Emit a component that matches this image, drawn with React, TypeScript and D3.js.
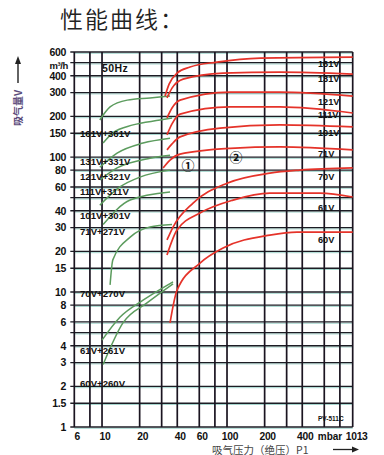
import React from "react";
import * as d3 from "d3";

// ---- axes ----
const xGrid = [6, 8, 10, 20, 30, 40, 60, 80, 100, 200, 300, 400, 600, 800, 1013];
const xTickValues = [6, 10, 20, 40, 60, 100, 200, 400, 1013];
const xTickLabels = ["6", "10", "20", "40", "60", "100", "200", "400", "1013"];
const yGrid = [1, 1.5, 2, 3, 4, 5, 6, 8, 10, 15, 20, 30, 40, 50, 60, 80, 100, 150, 200, 300, 400, 500, 600];
const yTickValues = [1, 1.5, 2, 3, 4, 6, 8, 10, 15, 20, 30, 40, 60, 80, 100, 150, 200, 300, 400, 600];
const yTickLabels = ["1", "1.5", "2", "3", "4", "6", "8", "10", "15", "20", "30", "40", "60", "80", "100", "150", "200", "300", "400", "600"];

// ---- models ----
const models = ["161V", "131V", "121V", "111V", "101V", "71V", "70V", "61V", "60V"];
const greenLabels = ["161V+361V", "131V+331V", "121V+321V", "111V+311V", "101V+301V", "71V+271V", "70V+270V", "61V+261V", "60V+260V"];
const greenLabelFlow = [150, 92, 72, 56, 37, 28, 9.7, 3.7, 2.1];
const redLabelFlow = [489, 385, 260, 208, 153, 107, 72, 42, 24.7];

// green curves (region 1): suction pressure mbar, flow m3/h
const greenPressure = [
  [9.6, 11.6, 15.9, 24.2, 35],
  [10.2, 12.2, 17.7, 29.1, 36.3],
  [9.6, 13.2, 21.3, 35],
  [9.6, 13.2, 24.2, 35],
  [9.6, 13.9, 20.1, 35],
  [10.2, 16.8, 35],
  [11.6, 12.2, 16.8, 24.2, 36.3],
  [10, 13.9, 21.3, 37],
  [10.2, 14.7, 22.9, 37],
];
const greenFlow = [
  [188, 235, 264, 274, 283],
  [127, 151, 173, 188, 195],
  [84, 107, 127, 138],
  [67.6, 83, 98, 103],
  [44, 60, 71, 80],
  [31.6, 48, 55],
  [11.3, 17.3, 25.5, 30.3, 31.6],
  [4.4, 6.5, 8.7, 11.9],
  [2.9, 5.9, 8.3, 11.5],
];

// red curves (region 2)
const redPressure = [
  [31.9, 34.4, 39.8, 50.6, 83, 185, 1013],
  [33.1, 36.3, 44.5, 93, 265, 1013],
  [33.1, 36.3, 42.1, 106, 265, 1013],
  [33.1, 36.3, 42.1, 106, 265, 1013],
  [33.1, 36.3, 42.1, 88, 265, 1013],
  [30.8, 35, 42.1, 106, 265, 1013],
  [33.1, 37, 53.5, 100, 220, 384, 1013],
  [33.1, 39.8, 60.8, 112, 220, 555, 1013],
  [35, 39.8, 60.8, 93, 220, 363, 1013],
];
const redFlow = [
  [283, 347, 419, 464, 505, 541, 550],
  [274, 324, 378, 419, 426, 412],
  [195, 231, 264, 303, 303, 283],
  [146, 176, 208, 235, 235, 212],
  [113, 125, 141, 164, 173, 167],
  [83, 95, 105, 116, 119, 113],
  [24.3, 30.3, 45.6, 64, 76, 80, 83],
  [18.8, 28.8, 38.5, 48, 54, 54, 50.6],
  [5.9, 10.3, 16.4, 21.2, 26.4, 27.8, 27.8],
];

const regionMarks = ["①", "②"];
const regionPressure = [48.7, 118];
const regionFlow = [87, 100];

export default function App() {
  const W = 384;
  const H = 455;
  const x = d3.scaleLog().domain([6, 1013]).range([74.3, 352.7]);
  const y = d3.scaleLog().domain([1, 600]).range([427, 52]);
  const line = d3
    .line<[number, number]>()
    .x((d) => x(d[0]))
    .y((d) => y(d[1]))
    .curve(d3.curveMonotoneX);

  const bold = "'Liberation Sans', Arial, sans-serif";
  const x0 = x(6);
  const x1 = x(1013);
  const yTop = y(600);
  const yBot = y(1);

  return (
    <svg
      width={W}
      height={H}
      viewBox={`0 0 ${W} ${H}`}
      style={{ position: "absolute", left: 0, top: 0, background: "#fff" }}
    >
      <rect x={0} y={0} width={W} height={H} fill="#fff" />
      {/* title */}
      <text x={60} y={28} fontFamily="'Noto Sans CJK SC'" fontSize={23} fontWeight={350} letterSpacing={2} fill="#222">
        性能曲线：
      </text>

      {/* horizontal grid */}
      {yGrid.map((v) => (
        <g key={"h" + v}>
          <line x1={x0} x2={x1} y1={y(v) + 1.3} y2={y(v) + 1.3} stroke="#5fb8a8" strokeWidth={0.8} opacity={0.7} />
          <line x1={x0 - 4} x2={x1} y1={y(v)} y2={y(v)} stroke="#1c1c24" strokeWidth={1.3} />
        </g>
      ))}
      {/* vertical grid */}
      {xGrid.map((v) => (
        <line key={"v" + v} x1={x(v)} x2={x(v)} y1={yTop} y2={yBot} stroke="#1a1420" strokeWidth={1.7} />
      ))}

      {/* green curves */}
      {greenPressure.map((ps, i) => (
        <path
          key={"g" + i}
          d={line(ps.map((p, j) => [p, greenFlow[i][j]] as [number, number])) || ""}
          fill="none"
          stroke="#5c9c5e"
          strokeWidth={1.5}
        />
      ))}
      {/* red curves */}
      {redPressure.map((ps, i) => (
        <path
          key={"r" + i}
          d={line(ps.map((p, j) => [p, redFlow[i][j]] as [number, number])) || ""}
          fill="none"
          stroke="#e5332a"
          strokeWidth={1.7}
        />
      ))}

      {/* green labels */}
      {greenLabels.map((t, i) => (
        <text
          key={"gl" + i}
          x={80}
          y={y(greenLabelFlow[i]) + 3.5}
          fontFamily={bold}
          fontWeight={700}
          fontSize={9.6}
          fill="#111"
        >
          {t}
        </text>
      ))}
      {/* red labels */}
      {models.map((t, i) => (
        <text
          key={"rl" + i}
          x={318}
          y={y(redLabelFlow[i]) + 3.5}
          fontFamily={bold}
          fontWeight={700}
          fontSize={9.2}
          fill="#111"
        >
          {t}
        </text>
      ))}

      {regionMarks.map((t, i) => (
        <text
          key={"rm" + i}
          x={x(regionPressure[i])}
          y={y(regionFlow[i]) + 4.5}
          textAnchor="middle"
          fontFamily="'Noto Sans CJK SC'"
          fontWeight={700}
          fontSize={13}
          fill="#111"
        >
          {t}
        </text>
      ))}

      <text x={x(10)} y={y(456) + 3.5} fontFamily={bold} fontWeight={700} fontSize={10.5} letterSpacing={0.4} fill="#111">
        50Hz
      </text>
      <text x={318} y={421} fontFamily={bold} fontWeight={700} fontSize={6.5} fill="#111">
        PV-511C
      </text>

      {/* y tick labels */}
      {yTickValues.map((v, i) => (
        <text
          key={"yt" + v}
          x={66}
          y={y(v) + 3.8}
          textAnchor="end"
          fontFamily={bold}
          fontWeight={700}
          fontSize={10.5}
          letterSpacing={-0.3}
          fill="#111"
        >
          {yTickLabels[i]}
        </text>
      ))}
      <text x={68} y={y(500) + 6} textAnchor="end" fontFamily={bold} fontWeight={700} fontSize={9.5} letterSpacing={-0.4} fill="#111">
        m³/h
      </text>

      {/* x tick labels */}
      {xTickValues.map((v, i) => (
        <text
          key={"xt" + v}
          x={x(v) + (v === 1013 ? 4 : 3)}
          y={439.5}
          textAnchor="middle"
          fontFamily={bold}
          fontWeight={700}
          fontSize={10.3}
          letterSpacing={-0.3}
          fill="#111"
        >
          {xTickLabels[i]}
        </text>
      ))}
      <text x={330} y={439.5} textAnchor="middle" fontFamily={bold} fontWeight={700} fontSize={10} fill="#111">
        mbar
      </text>

      {/* x axis title */}
      <text x={212} y={453.5} fontFamily="'Noto Sans CJK SC'" fontSize={10.5} fontWeight={400} fill="#444">
        吸气压力（绝压）P1
      </text>
      <line x1={333} x2={352} y1={449.5} y2={449.5} stroke="#222" strokeWidth={1.3} />
      <path d="M352,446.5 L359,449.5 L352,452.5 Z" fill="#222" />

      {/* y axis title */}
      <line x1={18} x2={18} y1={83} y2={63} stroke="#222" strokeWidth={1.4} />
      <path d="M15,64 L18,56 L21,64 Z" fill="#222" />
      <text
        transform="translate(22,108) rotate(-90)"
        textAnchor="middle"
        fontFamily="'Noto Sans CJK SC'"
        fontSize={10}
        fontWeight={700}
        fill="#5a4a7a"
      >
        吸气量V
      </text>
    </svg>
  );
}
